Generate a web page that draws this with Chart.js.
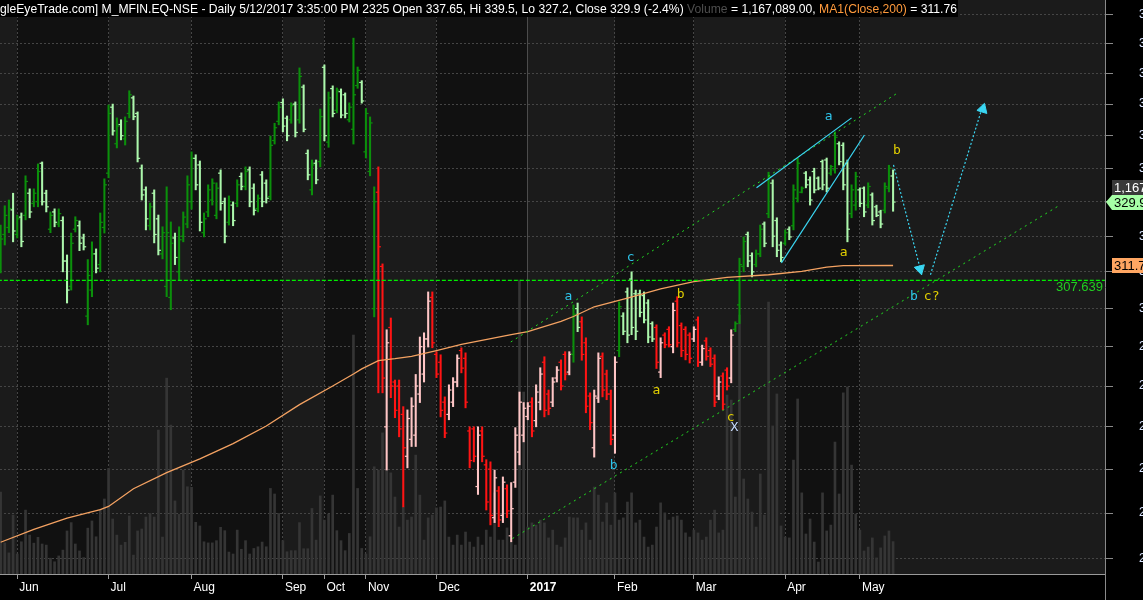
<!DOCTYPE html>
<html>
<head>
<meta charset="utf-8">
<script src="https://cdn.jsdelivr.net/npm/chart.js@4.4.1/dist/chart.umd.min.js"></script>
<style>
  html, body { margin: 0; padding: 0; background: #000; overflow: hidden; }
  #wrap { width: 1143px; height: 600px; }
</style>
</head>
<body>
<div id="wrap"><canvas id="myChart" width="1143" height="600"></canvas></div>
<script>
// M_MFIN daily bars, Jun 2016 - 12 May 2017
const monthStarts = [4, 26, 46, 68, 78, 88, 105, 127, 148, 167, 189, 207];
const monthLabels = ['Jun', 'Jul', 'Aug', 'Sep', 'Oct', 'Nov', 'Dec', '2017', 'Feb', 'Mar', 'Apr', 'May'];
const priceTicks = [240, 250, 260, 270, 280, 290, 300, 310, 320, 330, 340, 350, 360, 370, 380, 390];

const opens = [
  312.8, 320.5, 322.5, 327.6, 320.5, 325.5, 326, 332.5, 329.5, 330,
  341.5, 332.5, 322, 327, 323.5, 324.5, 313, 306, 322, 323,
  319.5, 298, 305, 315, 312, 322.5, 338.5, 359, 347.5, 353.5,
  349, 357, 362, 357, 340, 333.5, 323, 332.5, 325, 315,
  306, 303, 319.5, 310, 320, 323.5, 330, 343, 341, 321,
  327, 330.5, 326, 338.5, 330, 324, 329, 329.5, 337.5, 334.5,
  339.5, 334, 328, 338, 335.5, 331.5, 348.5, 354.5, 360.5, 355.5,
  355, 360, 355, 365.5, 344.5, 333.5, 341.5, 342, 372, 348,
  365, 358, 364, 363, 355, 352, 366, 367, 345, 339,
  300, 332.8, 311.5, 270, 295, 281, 280, 273, 263, 267,
  268, 278, 283, 292, 303, 288, 286, 276, 273, 276,
  281, 289, 287, 269, 269.5, 256, 269, 261, 260, 249,
  255, 249.5, 255.5, 245, 257, 264, 268, 272.5, 276, 271.5,
  276, 286, 278, 276, 282, 286, 288, 283.5, 288, 300,
  296.5, 291, 277.5, 265, 277, 287.5, 283, 278, 268, 289,
  298, 304.5, 308, 304, 304, 303.5, 301.5, 296, 295, 283.5,
  293, 294.5, 290, 302, 295.5, 294.5, 293, 292, 297, 286,
  291.5, 289, 287, 277.5, 282.5, 284, 282, 294.5, 301, 311.5,
  320.5, 314.5, 312, 315, 323.5, 326.5, 335.5, 324.5, 317.5, 318,
  322, 323, 331, 332.8, 338.5, 336.5, 339, 337, 342, 342.5,
  338.5, 339.5, 347.5, 347, 341.5, 326.5, 329, 333.5, 334, 329,
  332, 328.5, 327, 327.5, 334, 337.65
];
const highs = [
  323.2, 328.8, 330.5, 332.5, 326.1, 326.7, 337.7, 333.8, 333.8, 341.3,
  341.9, 333.4, 327, 327.9, 327.9, 325.6, 314.7, 320.9, 325.6, 324.4,
  320.6, 313.4, 318.4, 316.4, 326.7, 336.8, 359.7, 360, 355.6, 355,
  355.9, 364.3, 362.6, 357.5, 341, 334.4, 329.6, 333.5, 326.1, 322.7,
  334.4, 324.1, 320.9, 322.7, 327, 337.7, 345, 344.1, 342.2, 326.7,
  335, 336.8, 335.6, 339.5, 331.1, 331.7, 329.9, 336.5, 338.6, 340.4,
  340.4, 335.3, 332, 339, 336.5, 349.9, 353.9, 360.7, 361.7, 356.2,
  360.4, 360.7, 371.8, 366.2, 345.6, 342.5, 342.5, 358.4, 372.8, 363.9,
  365.9, 365.2, 364.9, 363.6, 360.4, 381.8, 372.1, 367.6, 358.6, 355.9,
  334.4, 340.4, 312.2, 294.4, 297.5, 281.5, 281.5, 274.9, 274.1, 277.1,
  282.9, 292.5, 293.6, 304.5, 304.5, 288.7, 287.9, 277.3, 280.3, 282.1,
  287.9, 289.7, 288.4, 270, 270, 270, 270, 262.2, 261.7, 259.8,
  256, 258.2, 256.4, 256.9, 269.8, 278.5, 275.9, 275.9, 277.1, 280.3,
  284.6, 287.4, 279, 282.1, 284.9, 286.6, 288.7, 288.7, 301, 301.5,
  297.8, 292.3, 278.3, 279, 288.4, 288.4, 284, 279, 287.4, 301.8,
  298.9, 305.6, 310, 305, 305, 304.5, 302.4, 296.5, 295.7, 292.3,
  293.6, 295.2, 301.5, 303.2, 296.2, 295.2, 293.6, 295.2, 297.8, 290.4,
  292.3, 289.7, 287.9, 282.3, 283.3, 284.6, 294.4, 296.5, 313.8, 319.8,
  321.2, 315.3, 316.1, 323.2, 324.1, 338.8, 336.5, 325.3, 318.4, 321.8,
  322.7, 335, 343.1, 334.4, 339, 337.4, 340, 337.4, 342.5, 343.1,
  340.9, 351.2, 348.1, 347.8, 342.5, 335, 338.8, 334.1, 334.4, 335.6,
  332.6, 329, 327.5, 335.6, 340.9, 339.5
];
const lows = [
  309.7, 317.5, 321, 318.4, 319.5, 317, 324.7, 325.3, 328.5, 328.5,
  329, 327, 321, 322.7, 322.7, 310, 301.5, 305, 321.2, 315.9,
  316.1, 295.7, 303.2, 309.7, 310, 320.9, 337.1, 350.2, 346.2, 348.7,
  347.1, 355.6, 355, 341.9, 330.5, 321.8, 321.8, 318.1, 314.7, 313.6,
  303.2, 299.7, 312, 307.8, 318.4, 322.4, 327.8, 333.5, 321.5, 319.8,
  325.6, 329, 325, 327.5, 318.1, 323.2, 323, 328.5, 333.5, 333.5,
  328.5, 326.1, 327, 328.5, 329.6, 330.5, 347.4, 353.4, 351.2, 348.4,
  353.9, 349.6, 353.9, 351.2, 336.5, 332, 335.3, 340.4, 348.4, 346.4,
  355.9, 357.2, 355.6, 355.6, 354.3, 347.4, 365.1, 360.3, 343.1, 337.7,
  297.8, 278.3, 278.3, 259.8, 277.1, 272.2, 267.6, 251.4, 260.3, 265.3,
  265.3, 275.9, 281, 289.9, 289.7, 282.1, 272.4, 267.4, 271.7, 274.9,
  279.8, 283.3, 274.6, 260.3, 261.7, 254.2, 261.7, 250.7, 247.4, 247.9,
  247, 247.9, 249, 243.7, 255.8, 261, 266.4, 271.7, 267.6, 270,
  274.1, 272.4, 272.9, 274.9, 281, 279, 281.5, 282.8, 286, 293.9,
  286.5, 273.4, 269.3, 262.8, 275.9, 277.3, 276.6, 265.7, 263.7, 287.4,
  293.1, 291, 293.1, 291.8, 297.8, 296.2, 291, 291.3, 284.4, 282.1,
  289.7, 289.9, 288.4, 289.9, 287.4, 286.6, 285.8, 291.3, 284.9, 285.2,
  286.5, 284.9, 274.9, 276.6, 274.1, 279, 280.8, 293.9, 296, 310,
  311.4, 308.6, 311.4, 314.2, 317, 325.3, 317, 314.2, 312.8, 317.5,
  319, 321.8, 329.9, 332.6, 334.1, 329, 332.6, 333.5, 333.5, 332.9,
  337.9, 338.5, 341, 333.5, 318.4, 325.3, 327.5, 328.5, 325.6, 328.2,
  323.2, 325.6, 322.4, 326.7, 332.9, 327.2
];
const closes = [
  319.2, 326, 328, 321.5, 325, 318.5, 336, 327, 332.5, 339,
  330, 328.5, 326, 324, 326.5, 313, 305, 318, 324.5, 318,
  317, 309, 315, 311, 324, 335, 357, 351.5, 353, 350,
  354.5, 363, 356, 343, 332, 325, 328.5, 320.5, 316, 321,
  321, 318, 314, 319, 325.5, 335, 343, 335, 324, 325,
  333.5, 335.5, 334, 329.5, 320, 330, 324.5, 335, 334.5, 339,
  330, 327.5, 331, 330, 331, 347, 352.5, 359, 353, 350,
  359.5, 351, 369, 352, 338, 341, 336.5, 356, 350, 362,
  357, 364.5, 356.5, 357, 359, 363, 371, 361, 357, 354,
  330, 317, 282, 291, 280, 274, 269.5, 265, 272, 275,
  280, 290, 292, 302, 291, 283, 274, 268.5, 279, 281,
  287, 284.5, 276, 262, 263, 268, 263, 252.5, 249.5, 258,
  248.5, 257, 250.5, 251, 268, 276, 274.5, 275, 269, 278.5,
  283, 274, 274.5, 281, 284, 280, 283, 288, 298.5, 295,
  288, 275, 271, 277.5, 287, 279, 278, 267, 286, 300.5,
  294, 293, 295, 294, 299, 297, 292.5, 292, 286, 291,
  290.5, 290.5, 299.5, 291, 289, 288, 287, 294.5, 286, 289.5,
  287.5, 285.5, 276, 281, 275.5, 280, 293, 296, 312, 318.5,
  313, 310, 315, 322, 318, 337.5, 320, 316, 314, 321,
  319.8, 333.5, 341.5, 334, 335, 330.5, 333.5, 334, 335, 334,
  340.5, 349.5, 342, 335, 322, 333.5, 337.5, 329.5, 327, 334.5,
  324.5, 326, 323.5, 334.5, 340, 329.9
];
// volume in thousands of shares
const volumes = [
  2950, 1120, 760, 2120, 720, 1160, 2300, 1400, 1110, 1320,
  1080, 1040, 570, 440, 650, 860, 1550, 1850, 1080, 830,
  590, 1650, 1910, 1340, 2330, 2700, 3800, 1980, 1400, 1040,
  1140, 2090, 680, 1550, 1620, 2050, 2180, 2050, 5180, 1330,
  7050, 5360, 2630, 2150, 3740, 3140, 3120, 1860, 1730, 1160,
  1120, 1120, 1200, 1680, 1560, 790, 720, 1580, 890, 1200,
  720, 920, 980, 1150, 980, 3080, 2880, 2180, 1200, 800,
  840, 840, 1850, 910, 910, 2360, 1220, 2810, 1940, 2160,
  2840, 1560, 1200, 840, 1460, 8600, 3080, 920, 720, 1340,
  3860, 3740, 5080, 3740, 3640, 2770, 1690, 2410, 1940, 2050,
  4280, 2840, 1220, 2020, 2120, 2380, 2410, 2630, 1330, 1040,
  1400, 1040, 1510, 1150, 970, 1330, 1040, 1580, 1330, 2920,
  1220, 1220, 1660, 1150, 1040, 10580, 6550, 1690, 1840, 1760,
  1940, 1840, 1300, 1580, 1040, 970, 1300, 2050, 2020, 2020,
  1580, 1840, 1220, 3130, 2840, 1870, 2560, 1760, 2920, 1940,
  2020, 2590, 2920, 1840, 1940, 1330, 970, 1040, 1690, 2560,
  2200, 1940, 2050, 2090, 1940, 1480, 1330, 1580, 1480, 1220,
  1330, 1940, 2300, 1480, 1580, 6440, 6260, 2770, 9320, 3420,
  2700, 2230, 1690, 3600, 2120, 9790, 5330, 6480, 1730, 1330,
  1300, 4100, 6300, 2920, 1440, 1980, 1150, 430, 2920, 1550,
  1760, 4750, 2880, 6520, 6730, 3920, 2160, 1580, 830, 970,
  1300, 580, 940, 1370, 1550, 1167
];
// 200-day moving average of close, [bar, value]
const ma200 = [
  [0, 243.6], [8, 246.4], [16, 248.9], [24, 250.8], [26, 251.5], [32, 255.5],
  [40, 259.2], [48, 262.4], [56, 266], [64, 270.2], [72, 275.4], [80, 280],
  [85, 283], [87, 284.3], [91, 286.4], [95, 286.9], [99, 287.5], [105, 289],
  [111, 290.6], [123, 293.1], [127, 293.9], [135, 296.6], [138, 297.9], [143, 300.5],
  [151, 302.8], [159, 305.3], [167, 307.3], [175, 308.5], [185, 309.2], [193, 310.1],
  [199, 311.3], [203, 311.7], [215, 311.76]
];
// bars drawn in the red/pink (bearish) scheme
const bearRanges = [[91, 137], [140, 148], [158, 176]];

// drawn studies: trend channel, wedge, projected path
const levelLine = 307.639;
const upperChannel = [[122.9, 291.2], [216.1, 363.6]];
const lowerChannel = [[123.3, 244.4], [254.9, 328.8]];
const wedgeTop = [[182.1, 334.1], [205, 355.6]];
const wedgeBottom = [[188.1, 312.5], [208.1, 350.2]];
const pathDown = [[215.1, 341], [221.9, 309.2]];
const pathUp = [[224, 309.2], [236.8, 360.3]];
const arrowHeads = [[221.5, 310.8, 166], [236.6, 358.4, 17]];
const waveLabels = [
  ['a', 136.8, 303.2, 'c'], ['c', 151.8, 313.9, 'c'], ['b', 147.7, 260.8, 'c'],
  ['a', 158, 278.8, 'y'], ['b', 163.8, 303.7, 'y'], ['c', 175.9, 272.2, 'y'],
  ['X', 176.8, 269.7, 'w'], ['a', 199.5, 356, 'c'], ['a', 203.1, 315.3, 'y'],
  ['b', 215.9, 345.3, 'y'], ['b', 220, 303.2, 'c'], ['c?', 224.3, 303.2, 'y']
];

const CYAN = '#3ad6f2';
const labelColors = { c: '#2ec4ea', y: '#e2cf00', w: '#c8dcff' };

const barColors = opens.map((o, i) => {
  const up = closes[i] >= o;
  const bear = bearRanges.some(r => i >= r[0] && i <= r[1]);
  if (bear) return up ? '#ffc6c6' : '#ff1414';
  return up ? '#0b900b' : '#acf7ac';
});

const toXY = arr => arr.map(p => ({ x: p[0], y: p[1] }));

const noPad = s => { s.paddingTop = 0; s.paddingBottom = 0; s.paddingLeft = 0; s.paddingRight = 0; };

const bandsPlugin = {
  id: 'bands',
  beforeDraw(chart) {
    const { ctx, chartArea: a, scales: { x } } = chart;
    ctx.save();
    ctx.fillStyle = '#000';
    ctx.fillRect(0, 0, chart.width, chart.height);
    const edges = monthStarts.map(v => x.getPixelForValue(v)).concat([a.right]);
    ctx.fillStyle = '#1b1b1b';
    ctx.fillRect(a.left, a.top, edges[0] - a.left, a.bottom - a.top);
    for (let k = 0; k < monthStarts.length; k++) {
      ctx.fillStyle = k % 2 === 0 ? '#111111' : '#1b1b1b';
      ctx.fillRect(edges[k], a.top, edges[k + 1] - edges[k], a.bottom - a.top);
    }
    ctx.restore();
  }
};

const textPlugin = {
  id: 'texts',
  afterDatasetsDraw(chart) {
    const { ctx, scales: { x, y } } = chart;
    ctx.save();
    ctx.font = '13px "DejaVu Sans Mono", monospace';
    ctx.textAlign = 'center';
    ctx.textBaseline = 'middle';
    waveLabels.forEach(l => {
      ctx.fillStyle = labelColors[l[3]];
      ctx.fillText(l[0], x.getPixelForValue(l[1]), y.getPixelForValue(l[2]));
    });
    // level value
    ctx.font = '13px "Liberation Sans", Arial, sans-serif';
    ctx.textAlign = 'right';
    ctx.fillStyle = '#22cc22';
    ctx.fillText(String(levelLine), chart.chartArea.right - 2, y.getPixelForValue(levelLine) + 7);
    ctx.restore();
  },
  afterDraw(chart) {
    const { ctx, chartArea: a, scales: { y } } = chart;
    ctx.save();
    // right axis line continues below the plot
    ctx.strokeStyle = '#8a8a8a';
    ctx.beginPath();
    ctx.moveTo(a.right + 0.5, a.bottom);
    ctx.lineTo(a.right + 0.5, chart.height);
    ctx.stroke();

    ctx.font = '13px "Liberation Sans", Arial, sans-serif';
    ctx.textBaseline = 'middle';
    ctx.textAlign = 'left';
    const bx = a.right + 7;
    // volume value
    let py = Math.round(y.getPixelForValue(334.4));
    ctx.fillStyle = '#3a3a3a';
    ctx.fillRect(bx, py - 7, 40, 15);
    ctx.fillStyle = '#fff';
    ctx.fillText('1,167', bx + 2, py + 1);
    // close value
    py = Math.round(y.getPixelForValue(closes[closes.length - 1]));
    ctx.fillStyle = '#a6ffa6';
    ctx.beginPath();
    ctx.moveTo(a.right + 1, py);
    ctx.lineTo(bx, py - 7);
    ctx.lineTo(bx + 40, py - 7);
    ctx.lineTo(bx + 40, py + 8);
    ctx.lineTo(bx, py + 8);
    ctx.closePath();
    ctx.fill();
    ctx.fillStyle = '#000';
    ctx.fillText('329.9', bx + 2, py + 1);
    // MA value
    py = Math.round(y.getPixelForValue(311.76));
    ctx.fillStyle = '#ffa662';
    ctx.fillRect(bx, py - 7, 40, 15);
    ctx.fillStyle = '#000';
    ctx.fillText('311.76', bx + 2, py + 1);

    // title line
    const parts = [
      ['gleEyeTrade.com] M_MFIN.EQ-NSE - Daily 5/12/2017 3:35:00 PM 2325 Open 337.65, Hi 339.5, Lo 327.2, Close 329.9 (-2.4%) ', '#ffffff'],
      ['Volume', '#4e4e4e'],
      [' = 1,167,089.00, ', '#ffffff'],
      ['MA1(Close,200)', '#ff9a3c'],
      [' = 311.76', '#ffffff']
    ];
    ctx.textBaseline = 'alphabetic';
    const full = parts.map(p => p[0]).join('');
    const sx = 957 / ctx.measureText(full).width;
    ctx.fillStyle = '#000';
    ctx.fillRect(0, 0, 958, 17);
    ctx.scale(sx, 1);
    let tx = 0;
    parts.forEach(p => {
      ctx.fillStyle = p[1];
      ctx.fillText(p[0], tx, 13);
      tx += ctx.measureText(p[0]).width;
    });
    ctx.restore();
  }
};

const thinLine = (data, color, dash, width, order) => ({
  type: 'line', data: toXY(data), borderColor: color, borderDash: dash,
  borderWidth: width, pointRadius: 0, fill: false, tension: 0, order: order
});

new Chart('myChart', {
  type: 'scatter',
  data: {
    datasets: [
      thinLine(pathDown, CYAN, [2, 2], 1.2, 1),
      thinLine(pathUp, CYAN, [2, 2], 1.2, 1),
      {
        type: 'scatter', data: toXY(arrowHeads), pointStyle: 'triangle',
        rotation: arrowHeads.map(p => p[2]), pointRadius: 6,
        pointBackgroundColor: CYAN, pointBorderColor: CYAN, order: 0
      },
      thinLine(wedgeTop, CYAN, [], 1.2, 2),
      thinLine(wedgeBottom, CYAN, [], 1.2, 2),
      thinLine(upperChannel, '#22dd22', [2, 4], 1, 3),
      thinLine(lowerChannel, '#22dd22', [2, 4], 1, 3),
      thinLine([[-5, levelLine], [300, levelLine]], '#00ee00', [4, 2], 1.4, 4),
      thinLine(ma200, '#f4a262', [], 1.3, 5),
      {
        type: 'scatter', data: opens.map((o, i) => ({ x: i - 0.3, y: o })),
        pointStyle: 'line', pointRadius: 1.3, pointBorderWidth: 1.2,
        pointBorderColor: barColors, order: 6
      },
      {
        type: 'scatter', data: closes.map((c, i) => ({ x: i + 0.3, y: c })),
        pointStyle: 'line', pointRadius: 1.3, pointBorderWidth: 1.2,
        pointBorderColor: barColors, order: 6
      },
      {
        type: 'bar', data: highs.map((h, i) => ({ x: i, y: [lows[i], h] })),
        backgroundColor: barColors, barThickness: 1.4, grouped: false, order: 7
      },
      {
        type: 'bar', yAxisID: 'yv', data: volumes.map((v, i) => ({ x: i, y: v })),
        backgroundColor: '#353535', barThickness: 2, grouped: false, order: 9
      }
    ]
  },
  options: {
    responsive: false,
    animation: false,
    devicePixelRatio: 1,
    events: [],
    layout: { padding: 0, autoPadding: false },
    plugins: { legend: { display: false }, tooltip: { enabled: false } },
    scales: {
      x: {
        type: 'linear', min: -0.15, max: 266.05, offset: false,
        afterBuildTicks: s => { s.ticks = monthStarts.map(v => ({ value: v })); },
        afterFit: s => { s.height = 26; noPad(s); },
        ticks: {
          autoSkip: false, maxRotation: 0, align: 'start', labelOffset: 2, padding: 1,
          color: '#ffffff',
          font: c => ({ family: '"Liberation Sans", Arial, sans-serif', size: 12,
            weight: c.tick && c.tick.value === 127 ? 'bold' : 'normal' }),
          callback: (v, idx) => monthLabels[idx]
        },
        grid: {
          offset: false,
          color: c => (c.tick && c.tick.value === 127) ? '#4c4c4c' : '#454545',
          tickColor: '#9a9a9a', tickLength: 5, tickBorderDash: []
        },
        border: { color: '#9a9a9a', dash: c => (c.tick && c.tick.value === 127) ? [] : [2, 2] }
      },
      y: {
        type: 'logarithmic', position: 'right', min: 236.8, max: 395,
        afterBuildTicks: s => { s.ticks = priceTicks.map(v => ({ value: v })); },
        afterFit: s => { s.width = 38; noPad(s); },
        ticks: {
          color: '#d8e4ff', padding: 26,
          font: { family: '"Liberation Sans", Arial, sans-serif', size: 12 },
          callback: v => String(v)
        },
        grid: { offset: false, color: '#454545', tickColor: '#8a8a8a', tickLength: 8, tickBorderDash: [] },
        border: { color: '#8a8a8a', dash: [2, 2] }
      },
      yv: { type: 'linear', display: false, min: 0, max: 20660, afterFit: noPad }
    }
  },
  plugins: [bandsPlugin, textPlugin]
});
</script>
</body>
</html>
